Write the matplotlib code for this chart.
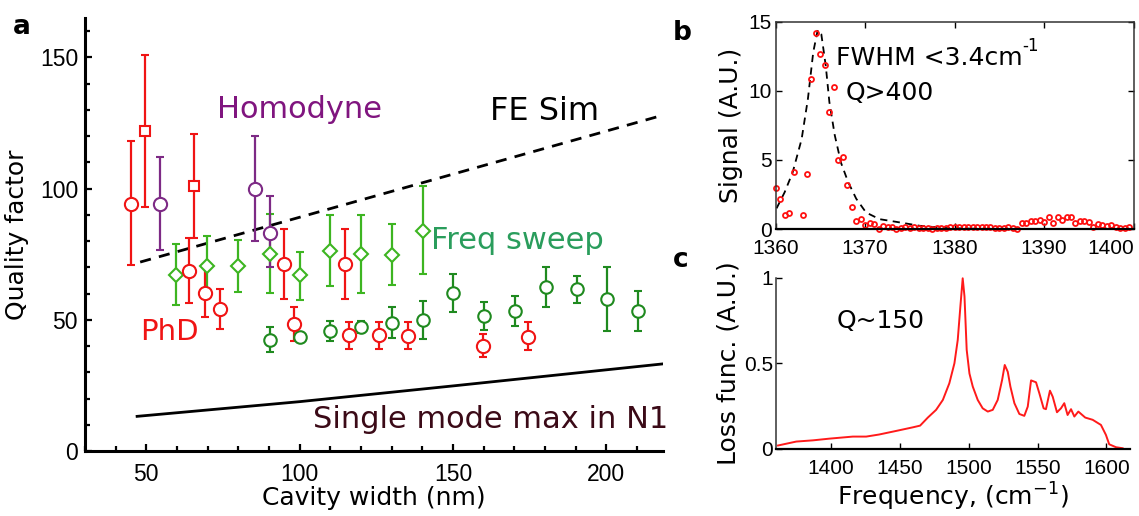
import numpy as np
import matplotlib
matplotlib.use("Agg")
import matplotlib.pyplot as plt
from matplotlib.ticker import MultipleLocator

plt.rcParams["font.family"] = "DejaVu Sans"
plt.rcParams["mathtext.default"] = "regular"

RED = "#F01414"; LGREEN = "#3DB521"; DGREEN = "#1F8A1F"; PURPLE = "#7D2A85"
TICKFONT = "Liberation Sans"

# ---------------- panel a data ----------------
phd_x = [45, 64, 69.3, 74, 94.8, 98.3, 114.7, 116, 125.8, 135.3, 159.8, 174.5]
phd_y = [94.3, 68.7, 60.3, 54.2, 71.4, 48.5, 71.2, 44.3, 44.1, 43.9, 40, 43.5]
phd_lo = [71, 56.5, 51, 46.6, 58, 42, 57.8, 39, 39, 39, 36, 38.5]
phd_hi = [118, 81, 71, 61.8, 84.7, 55, 84.5, 49, 49, 49, 44.7, 49]

phdsq_x = [49.7, 65.7]
phdsq_y = [122, 101]
phdsq_lo = [93, 81]
phdsq_hi = [150.8, 121]

hom_x = [54.6, 85.3, 90.5]
hom_y = [94.3, 100, 83.2]
hom_lo = [76.7, 80, 70.3]
hom_hi = [112, 120, 97]

fsd_x = [59.8, 69.8, 79.8, 90.2, 100, 110, 119.9, 130, 140.2]
fsd_y = [67.2, 70.6, 70.6, 75.2, 67.2, 76.3, 75.2, 74.8, 84]
fsd_lo = [55.7, 58.8, 60.7, 60.3, 57.6, 63, 60.3, 63.4, 67.6]
fsd_hi = [79, 82, 80.5, 90.5, 76, 90.1, 90.1, 86.6, 101]

fsc_x = [90.2, 100, 110, 119.9, 130, 140.2, 150, 160.1, 170.3, 180.4, 190.5, 200.3, 210.5]
fsc_y = [42.4, 43.5, 45.8, 47.3, 48.9, 50, 60.3, 51.5, 53.4, 62.6, 61.8, 58, 53.4]
fsc_lo = [37.8, 42, 42, 45, 43, 42.7, 53, 46, 47.7, 55, 56.5, 45.8, 45.8]
fsc_hi = [47.3, 45.5, 49.6, 49.6, 55, 57.2, 67.6, 56.9, 59.2, 70.2, 66.8, 70, 61]

fe_x = [48, 218.5]
fe_y = [72, 128]
sm_x = [47, 100, 150, 218.5]
sm_y = [13.2, 18.8, 24.8, 33.2]

# ---------------- panel b data ----------------
b_freq = [1360, 1360.5, 1361, 1361.5, 1362] + list(np.arange(1363, 1400, 0.5))
b_sig = [3.0, 2.17, 1.04, 1.2, 4.15,
         0.99, 3.99, 10.87, 14.2, 12.63, 11.84, 8.45, 10.24, 4.98, 5.22, 3.19,
         1.62, 0.56, 0.75, 0.29, 0.41, 0.34, 0.0, 0.22, 0.12, 0.17, 0.02,
         0.05, 0.12, 0.05, 0.12, 0.05, 0.05, 0.05, 0.0, 0.05, 0.05, 0.05, 0.15,
         0.12, 0.17, 0.15, 0.17, 0.12, 0.17, 0.12, 0.12, 0.12, 0.1, 0.05, 0.05,
         0.12, 0.05, 0.0,
         0.42, 0.45, 0.6, 0.6, 0.66, 0.52, 0.9, 0.46, 0.9, 0.68, 0.85, 0.85, 0.47,
         0.6, 0.6, 0.52, 0.18, 0.34, 0.29, 0.24, 0.3, 0.15, 0.09, 0.09, 0.12]
fit_x = [1360.1, 1361, 1361.9, 1362.9, 1363.6, 1364.2, 1364.7, 1365.1, 1365.6, 1366,
         1366.6, 1367.3, 1368.1, 1369, 1370.1, 1371.6, 1373.9, 1376.1, 1379.1,
         1382.8, 1390, 1400]
fit_y = [1.5, 2.66, 4.1, 6.5, 9.4, 12.8, 14.4, 14.1, 11.8, 9.2,
         6.8, 4.8, 3.4, 2.2, 1.2, 0.72, 0.48, 0.24, 0.07,
         0.02, 0.0, 0.0]

# ---------------- panel c data ----------------
c_freq = [1361.7, 1375, 1387, 1399, 1416, 1425.7, 1435, 1447.4, 1459.5, 1464.8,
          1470.4, 1476.4, 1481.3, 1486, 1489.7, 1492.1, 1494, 1495.7, 1497, 1498.6,
          1500.6, 1503, 1506.6, 1510.2, 1513.9, 1517.5, 1521.1, 1524.3, 1526.2,
          1528.4, 1530.3, 1533.2, 1536.8, 1540.4, 1542.9, 1545.3, 1548.9, 1551.3,
          1554.4, 1556.1, 1559, 1561, 1564.1, 1567, 1569.4, 1571.8, 1574.3, 1576.7,
          1579.6, 1584.6, 1590, 1596, 1599.6, 1602, 1606.9, 1611.7]
c_loss = [0.02, 0.043, 0.05, 0.06, 0.072, 0.072, 0.084, 0.105, 0.126, 0.136,
          0.183, 0.228, 0.286, 0.383, 0.5, 0.636, 0.83, 0.996, 0.89, 0.578,
          0.44, 0.364, 0.286, 0.237, 0.218, 0.228, 0.286, 0.403, 0.49,
          0.45, 0.364, 0.267, 0.204, 0.193, 0.247, 0.4, 0.389, 0.325,
          0.237, 0.232, 0.34, 0.305, 0.214, 0.237, 0.267, 0.198, 0.232, 0.189,
          0.218, 0.183, 0.17, 0.14, 0.082, 0.027, 0.01, 0.004]

fig = plt.figure(figsize=(11.39, 5.16), dpi=100)

# ================= panel a =================
ax = fig.add_axes([0.0746, 0.126, 0.5075, 0.839])


def ebar(x, y, lo, hi, color, marker, ms):
    y = np.array(y); lo = np.array(lo); hi = np.array(hi)
    ax.errorbar(x, y, yerr=[y - lo, hi - y], fmt=marker, color=color, mfc="white",
                mec=color, ms=ms, mew=1.5, elinewidth=1.6, capsize=3, capthick=1.6,
                zorder=3)


ax.plot(fe_x, fe_y, "k--", lw=2, dashes=(4, 3), zorder=2)
ax.plot(sm_x, sm_y, "k-", lw=2, zorder=2)
ebar(fsc_x, fsc_y, fsc_lo, fsc_hi, DGREEN, "o", 9)
ebar(fsd_x, fsd_y, fsd_lo, fsd_hi, LGREEN, "D", 7.5)
ebar(phd_x, phd_y, phd_lo, phd_hi, RED, "o", 9.5)
ebar(phdsq_x, phdsq_y, phdsq_lo, phdsq_hi, RED, "s", 7.5)
ebar(hom_x, hom_y, hom_lo, hom_hi, PURPLE, "o", 9.5)

ax.text(73.2, 127, "Homodyne", color="#80157F", fontsize=22, va="baseline")
ax.text(162, 126.3, "FE Sim", color="black", fontsize=23, va="baseline")
ax.text(143, 77.1, "Freq sweep", color="#2A9D5C", fontsize=22, va="baseline")
ax.text(48, 42.4, "PhD", color=RED, fontsize=21, va="baseline")
ax.text(104.2, 8.8, "Single mode max in N1", color="#3B0A17", fontsize=22, va="baseline")

ax.set_xlim(30, 218.5)
ax.set_ylim(0, 165)
ax.xaxis.set_major_locator(MultipleLocator(50))
ax.xaxis.set_minor_locator(MultipleLocator(10))
ax.yaxis.set_major_locator(MultipleLocator(50))
ax.yaxis.set_minor_locator(MultipleLocator(10))
for s in ["top", "right"]:
    ax.spines[s].set_visible(False)
for s in ["left", "bottom"]:
    ax.spines[s].set_linewidth(2.2)
ax.tick_params(which="both", direction="in", width=1.6)
ax.tick_params(which="major", length=5)
ax.tick_params(which="minor", length=3.5)
ax.tick_params(axis="x", pad=9)
ax.tick_params(axis="y", pad=5)
for lab in ax.get_xticklabels() + ax.get_yticklabels():
    lab.set_fontfamily(TICKFONT); lab.set_fontsize(16.5)
ax.set_xlabel("Cavity width (nm)", fontsize=18, labelpad=0)
ax.set_ylabel("Quality factor", fontsize=18, labelpad=8)

# ================= panel b =================
bx = fig.add_axes([0.681, 0.556, 0.3143, 0.402])
bx.plot(fit_x, fit_y, "k--", lw=1.3, dashes=(4, 3))
bx.plot(b_freq, b_sig, "o", color="#FF1010", mfc="none", ms=3.6, mew=1.3, clip_on=False)
bx.set_xlim(1360, 1400)
bx.set_ylim(0, 15)
bx.set_xticks([1360, 1370, 1380, 1390, 1400])
bx.set_yticks([0, 5, 10, 15])
bx.tick_params(direction="in", top=True, right=True, length=4, width=1, pad=7)
bx.tick_params(axis="y", pad=3)
for s in bx.spines.values():
    s.set_linewidth(1.1); s.set_color("#333333")
bx.spines["bottom"].set_color("black"); bx.spines["bottom"].set_linewidth(1.6)
for lab in bx.get_xticklabels() + bx.get_yticklabels():
    lab.set_fontfamily(TICKFONT); lab.set_fontsize(15)
bx.get_xticklabels()[-1].set_horizontalalignment("right")
bx.set_ylabel("Signal (A.U.)", fontsize=18, labelpad=4)
fwhm = bx.text(1366.7, 11.9, "FWHM <3.4cm", fontsize=18, va="baseline")
bx.annotate("-1", xy=(1.0, 0.62), xycoords=fwhm, fontsize=12, ha="left", va="bottom")
bx.text(1367.8, 9.3, "Q>400", fontsize=18, va="baseline")

# ================= panel c =================
cx = fig.add_axes([0.681, 0.130, 0.311, 0.332])
cx.plot(c_freq, c_loss, color="#FF1A1A", lw=1.4, clip_on=False)
cx.set_xlim(1360, 1617)
cx.set_ylim(0, 1)
cx.set_xticks([1400, 1450, 1500, 1550, 1600])
cx.set_yticks([0, 0.5, 1])
cx.set_yticklabels(["0", "0.5", "1"])
for s in ["top", "right"]:
    cx.spines[s].set_visible(False)
cx.spines["left"].set_linewidth(1.1); cx.spines["left"].set_color("#333333")
cx.spines["bottom"].set_linewidth(1.6)
cx.tick_params(direction="in", length=4, width=1)
cx.tick_params(axis="x", pad=7)
cx.tick_params(axis="y", pad=2)
for lab in cx.get_xticklabels() + cx.get_yticklabels():
    lab.set_fontfamily(TICKFONT); lab.set_fontsize(15)
cx.set_ylabel("Loss func. (A.U.)", fontsize=18, labelpad=2)
cx.set_xlabel("Frequency, (cm$^{-1}$)", fontsize=18, labelpad=2)
cx.text(1404.2, 0.706, "Q~150", fontsize=18, va="baseline")

# panel letters
fig.text(13 / 1139, 1 - 34 / 516, "a", fontsize=19, fontweight="bold", va="baseline")
fig.text(673 / 1139, 1 - 40 / 516, "b", fontsize=19, fontweight="bold", va="baseline")
fig.text(673 / 1139, 1 - 267 / 516, "c", fontsize=19, fontweight="bold", va="baseline")

fig.savefig("out.png", dpi=100, facecolor="white")
